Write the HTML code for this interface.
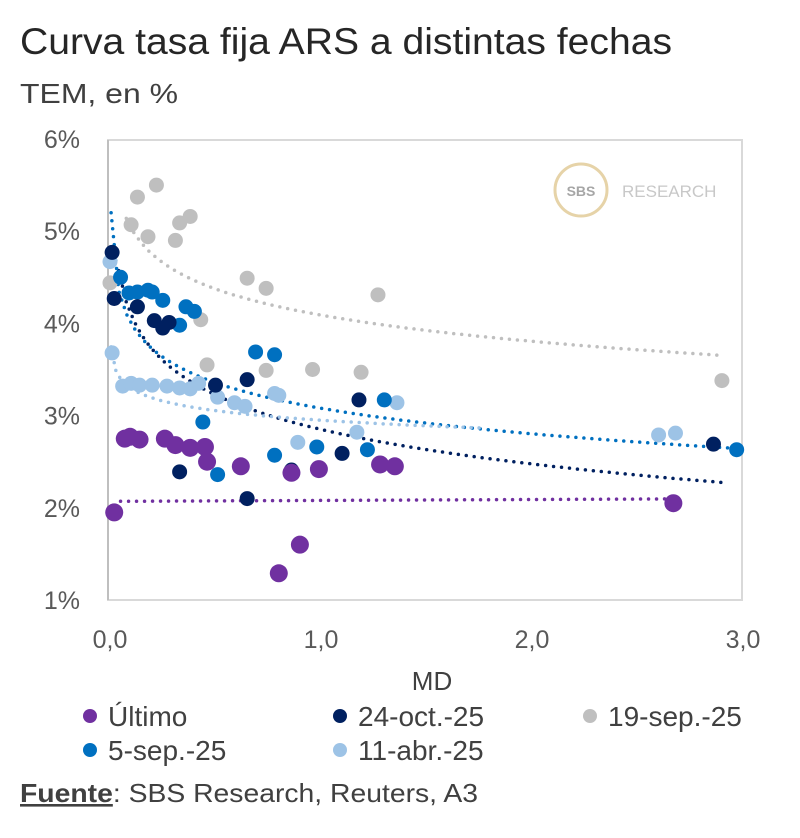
<!DOCTYPE html>
<html><head><meta charset="utf-8"><style>
body{margin:0;background:#fff;width:800px;height:833px;overflow:hidden;font-family:"Liberation Sans",sans-serif;}
</style></head><body>
<svg width="800" height="833" viewBox="0 0 800 833">
<text x="20" y="54" font-size="37" fill="#262626" textLength="652" lengthAdjust="spacingAndGlyphs">Curva tasa fija ARS a distintas fechas</text>
<text x="20" y="103" font-size="28" fill="#404040" textLength="158" lengthAdjust="spacingAndGlyphs">TEM, en %</text>
<rect x="108" y="140" width="634" height="460" fill="none" stroke="#D9D9D9" stroke-width="2"/>
<line x1="108" y1="140" x2="108" y2="600" stroke="#BFBFBF" stroke-width="2"/>
<g>
<circle cx="581" cy="190" r="26" fill="none" stroke="#E6D3A8" stroke-width="3"/>
<text x="581" y="196" font-size="14" font-weight="bold" fill="#A6A6A6" text-anchor="middle">SBS</text>
<text x="622" y="197" font-size="17" fill="#C8C8C8">RESEARCH</text>
</g>
<g id="ticks"></g>
<g id="trends"></g>
<g id="points"></g>
<text x="432" y="690" font-size="26" fill="#404040" text-anchor="middle">MD</text>
<g id="legend"></g>
<text x="20" y="802" font-size="26" fill="#404040" textLength="458" lengthAdjust="spacingAndGlyphs"><tspan font-weight="bold" text-decoration="underline">Fuente</tspan>: SBS Research, Reuters, A3</text>
</svg>
<script>
const yTicks=[1,2,3,4,5,6];
const xTicks=[0,1,2,3];
const seriesNames=["Último","24-oct.-25","19-sep.-25","5-sep.-25","11-abr.-25"];
const seriesColors=["#7030A0","#002060","#BFBFBF","#0070C0","#9DC3E6"];
const ultimoMD=[0.02,0.07,0.095,0.14,0.26,0.31,0.38,0.45,0.46,0.62,0.86,0.99,1.28,1.35,0.9,0.8,2.67];
const ultimoTEM=[1.95,2.75,2.77,2.74,2.75,2.68,2.65,2.66,2.5,2.45,2.38,2.42,2.47,2.45,1.6,1.29,2.05];
const oct24MD=[0.01,0.02,0.13,0.21,0.25,0.28,0.33,0.5,0.65,0.65,0.86,1.1,1.18,2.86];
const oct24TEM=[4.77,4.27,4.18,4.03,3.95,4.01,2.39,3.33,3.39,2.1,2.41,2.59,3.17,2.69];
const sep19MD=[0.13,0.22,0.1,0.18,0.31,0.33,0.38,0.65,0.74,1.27,0.46,0.74,0.96,1.19,0.43,0.0,2.9];
const sep19TEM=[5.37,5.5,5.07,4.94,4.9,5.09,5.16,4.49,4.38,4.31,3.55,3.49,3.5,3.47,4.04,4.44,3.38];
const sep5MD=[0.05,0.09,0.13,0.18,0.2,0.25,0.36,0.4,0.33,0.69,0.78,0.44,0.51,0.78,0.98,1.22,1.3,2.97];
const sep5TEM=[4.5,4.33,4.34,4.36,4.34,4.25,4.18,4.13,3.98,3.69,3.66,2.93,2.36,2.57,2.66,2.63,3.17,2.63];
const abr11MD=[0.0,0.01,0.06,0.1,0.14,0.2,0.27,0.33,0.38,0.42,0.51,0.59,0.64,0.78,0.8,0.89,1.17,1.36,2.6,2.68];
const abr11TEM=[4.67,3.68,3.32,3.35,3.33,3.33,3.32,3.3,3.29,3.35,3.2,3.14,3.1,3.24,3.22,2.71,2.82,3.14,2.79,2.81];
// trend lines: TEM = b + a*ln(MD) (log fits); Último linear
const trendA=[0.01,-0.54,-0.41,-0.4,-0.15];
const trendB=[2.07,2.85,4.09,3.08,2.95];
const trendEnd=[2.7,2.9,2.9,2.95,1.75];
const X=v=>110+v*211, Y=v=>600-(v-1)*92.2;
const NS="http://www.w3.org/2000/svg";
function mk(tag,attrs,parent){const e=document.createElementNS(NS,tag);for(const k in attrs)e.setAttribute(k,attrs[k]);parent.appendChild(e);return e;}
const tg=document.getElementById('ticks');
yTicks.forEach(t=>{const e=mk('text',{x:80,y:Y(t)+9,'font-size':25,fill:'#595959','text-anchor':'end'},tg);e.textContent=t+'%';

});
xTicks.forEach(t=>{const e=mk('text',{x:X(t),y:648,'font-size':25,fill:'#595959','text-anchor':'middle'},tg);e.textContent=t.toFixed(1).replace('.',',');

});
const trg=document.getElementById('trends');
for(let s=0;s<5;s++){let d='';
 if(s===0){d='M'+X(0.05)+','+Y(trendB[0]+trendA[0]*0.05)+' L'+X(trendEnd[0])+','+Y(trendB[0]+trendA[0]*trendEnd[0]);}
 else{for(let i=0;i<=80;i++){const m=0.005+(trendEnd[s]-0.005)*i/80;let v=trendB[s]+trendA[s]*Math.log(m);if(v>5.3)continue;d+=(d?'L':'M')+X(m).toFixed(1)+','+Y(v).toFixed(1);}}
 const p=mk('path',{d:d,fill:'none',stroke:seriesColors[s],'stroke-width':3.5,'stroke-dasharray':'0 8','stroke-linecap':'round'},trg);
 
 }
const pg=document.getElementById('points');
const mdA=[ultimoMD,oct24MD,sep19MD,sep5MD,abr11MD], temA=[ultimoTEM,oct24TEM,sep19TEM,sep5TEM,abr11TEM];
const order=[2,4,3,1,0];
order.forEach(s=>{mdA[s].forEach((m,i)=>{const c=mk('circle',{cx:X(m),cy:Y(temA[s][i]),r:s===0?9:7.5,fill:seriesColors[s]},pg);
 
 });});
const lg=document.getElementById('legend');
const legPos=[[90,726],[340,726],[590,726],[90,760],[340,760]];
seriesNames.forEach((n,s)=>{const g=mk('g',{},lg);
 
 
 mk('circle',{cx:legPos[s][0],cy:legPos[s][1]-10,r:7,fill:seriesColors[s]},g);
 const t=mk('text',{x:legPos[s][0]+18,y:legPos[s][1],'font-size':28,fill:'#404040'},g);t.textContent=n;});
</script>
</body></html>
